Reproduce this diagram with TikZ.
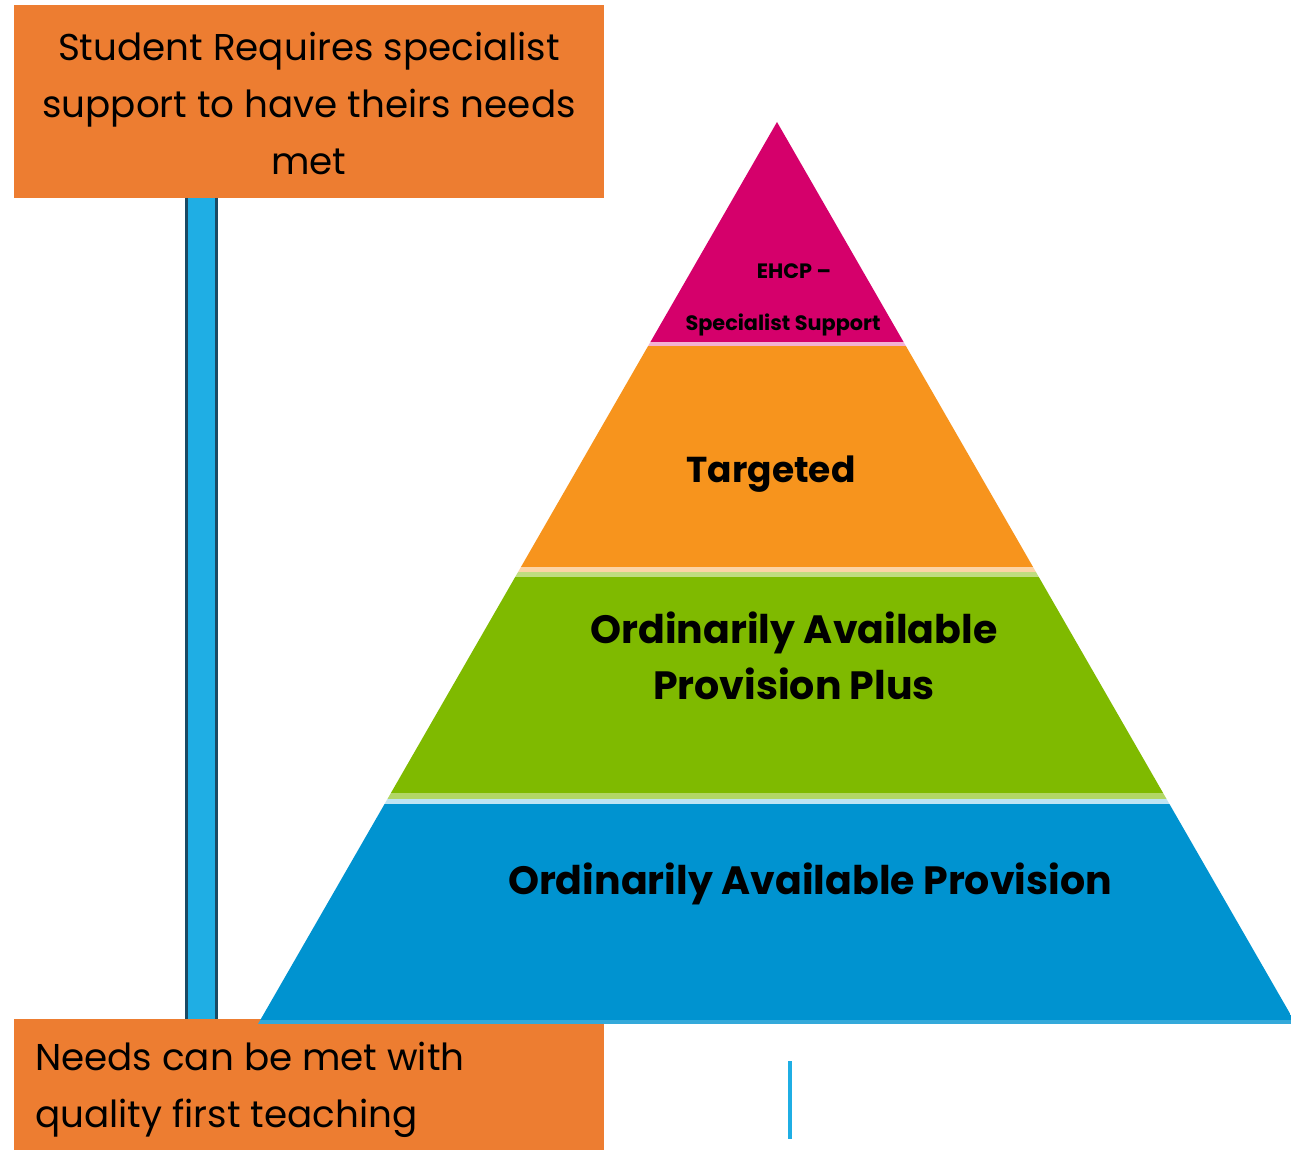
\documentclass[tikz,border=0pt]{standalone}
\usepackage{fontspec}
\setmainfont{Poppins}
\definecolor{boxorange}{HTML}{ED7D31}
\definecolor{barblue}{HTML}{1FAEE4}
\definecolor{bardark}{HTML}{1A4A64}
\definecolor{tmag}{HTML}{D5006B}
\definecolor{torange}{HTML}{F7941D}
\definecolor{tgreen}{HTML}{7FBA00}
\definecolor{tblue}{HTML}{0093D0}
\begin{document}
\begin{tikzpicture}[x=1pt,y=-1pt,
  labelbox/.style={fill=boxorange, inner sep=0pt, minimum width=590pt},
  boxtext/.style={font=\fontsize{37.3}{57}\selectfont},
  pyrtext/.style={font=\bfseries\fontsize{39.5}{56}\selectfont, align=center, inner sep=0pt}]
\useasboundingbox (0,0) rectangle (1291,1150);
\fill[white] (0,0) rectangle (1291,1150);
% boxes
\node[labelbox, minimum height=193pt, anchor=north west] (top) at (14,5) {};
\node[labelbox, minimum height=131pt, anchor=north west] (bot) at (14,1019) {};
% bar
\fill[barblue] (186.5,198) rectangle (216.5,1019);
\draw[bardark, line width=3pt] (186.5,198) -- (186.5,1019) (216.5,198) -- (216.5,1019);
% pyramid
\begin{scope}
\clip (777,122) -- (258,1024) -- (1296,1024) -- cycle;
\fill[tmag] (0,100) rectangle (1300,342);
\fill[tmag!30] (0,342) rectangle (1300,346);
\fill[torange] (0,346) rectangle (1300,567);
\fill[torange!40] (0,567) rectangle (1300,572);
\fill[tgreen!50] (0,572) rectangle (1300,577);
\fill[tgreen] (0,577) rectangle (1300,793);
\fill[tgreen!60] (0,793) rectangle (1300,799);
\fill[tblue!25] (0,799) rectangle (1300,804);
\fill[tblue] (0,804) rectangle (1300,1020);
\fill[tblue!80] (0,1020) rectangle (1300,1024);
\end{scope}
% texts
\node[boxtext, align=center, inner sep=0pt] (toptext) at (309,103) {Student Requires specialist\\support to have theirs needs\\met};
\node[boxtext, align=left, inner sep=0pt, anchor=west] (bottext) at (35,1090) {Needs can be met with\\quality first teaching};
\node[font=\bfseries\fontsize{20.8}{52}\selectfont, align=center, inner sep=0pt] (ehcp) at (783,300) {\hspace*{22pt}EHCP –\\Specialist Support};
\node[font=\bfseries\fontsize{36}{56}\selectfont, inner sep=0pt] (targeted) at (771,474) {Targeted};
\node[pyrtext] (oapp) at (794,656) {Ordinarily Available\\Provision Plus};
\node[pyrtext] (oap) at (810,884) {Ordinarily Available Provision};
% small line
\coordinate (s1) at (790,1061);
\coordinate (s2) at (790,1139);
\draw[barblue, line width=4pt] (s1) -- (s2);
\end{tikzpicture}
\end{document}
